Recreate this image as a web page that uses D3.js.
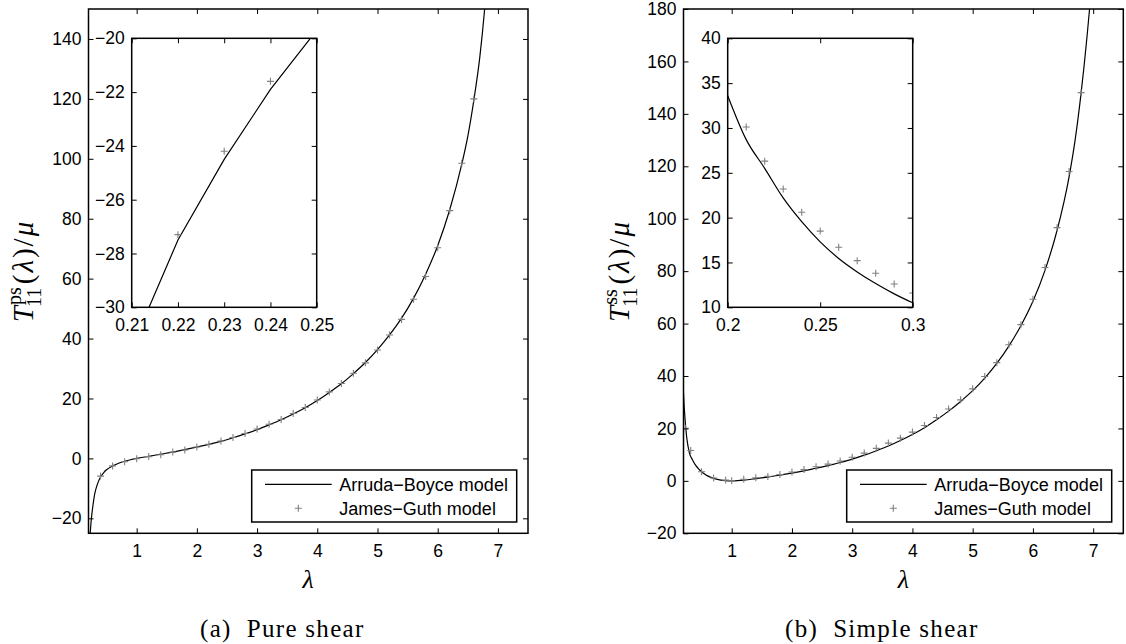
<!DOCTYPE html>
<html><head><meta charset="utf-8">
<script src="https://cdn.jsdelivr.net/npm/d3@7"></script>
<style>
body{margin:0;background:#fff;}
svg{display:block;}
.tick text{font-family:"Liberation Sans",Arial,sans-serif;font-size:17.5px;fill:#000;}
</style></head><body>
<svg id="chart" width="1126" height="644"></svg>
<script>
// ---------- data ----------
// (a) pure shear, Arruda-Boyce curve
const psCurveLambda = [0.21,0.22,0.23,0.24,0.25,0.27,0.3,0.35,0.4,0.45,0.5,0.6,0.7,0.8,0.9,1.0,1.2,1.4,1.6,1.8,2.0,2.2,2.4,2.6,2.8,3.0,3.2,3.4,3.6,3.8,4.0,4.2,4.4,4.6,4.8,5.0,5.2,5.4,5.6,5.8,6.0,6.2,6.4,6.5,6.6,6.7,6.78,6.85];
const psCurveValue  = [-31.5,-27.5,-24.5,-21.9,-19.7,-16.3,-12.2,-8.5,-6.2,-4.8,-3.8,-2.5,-1.6,-0.95,-0.45,0,0.7,1.4,2.1,2.9,3.8,4.7,5.7,6.9,8.2,9.6,11.2,12.9,14.8,16.9,19.3,22.0,24.9,28.3,32.0,36.3,41.2,46.8,53.5,61.5,71.0,83.0,98.2,107.5,119.5,134,150,168];
// (a) pure shear, James-Guth points
const psMarkLambda = [0.4,0.6,0.8,1.0,1.2,1.4,1.6,1.8,2.0,2.2,2.4,2.6,2.8,3.0,3.2,3.4,3.6,3.8,4.0,4.2,4.4,4.6,4.8,5.0,5.2,5.4,5.6,5.8,6.0,6.2,6.4,6.6];
const psMarkValue  = [-5.9,-2.5,-1.1,-0.1,0.6,1.2,2.1,2.8,3.8,4.7,5.8,7.0,8.3,9.8,11.4,13.0,15.0,17.0,19.5,22.2,25.0,28.4,31.9,36.2,41.2,46.4,53.1,60.7,70.3,82.7,98.5,120.0];
// (a) inset
const psInsetCurveLambda = [0.21,0.22,0.23,0.24,0.25];
const psInsetCurveValue  = [-31.5,-27.5,-24.5,-21.9,-19.7];
const psInsetMarkLambda  = [0.22,0.23,0.24];
const psInsetMarkValue   = [-27.3,-24.2,-21.6];

// (b) simple shear, Arruda-Boyce curve
const ssCurveLambda = [0.2,0.21,0.22,0.23,0.24,0.25,0.26,0.27,0.28,0.29,0.3,0.35,0.4,0.45,0.5,0.55,0.6,0.7,0.8,0.9,1.0,1.1,1.2,1.4,1.6,1.8,2.0,2.2,2.4,2.6,2.8,3.0,3.2,3.4,3.6,3.8,4.0,4.2,4.4,4.6,4.8,5.0,5.2,5.4,5.6,5.8,6.0,6.2,6.4,6.6,6.7,6.8,6.9,6.94,7.0];
const ssCurveValue  = [33.6,28.7,25.5,22.2,19.55,17.3,15.45,13.95,12.65,11.5,10.5,8.0,6.0,4.6,3.5,2.6,1.9,0.95,0.4,0.1,0,0.1,0.3,0.85,1.45,2.2,2.95,3.8,4.8,5.8,7.0,8.3,9.8,11.5,13.3,15.4,17.7,20.3,23.3,26.6,30.3,34.4,39.2,44.8,51.4,59.2,68.5,80.3,95.5,116,130,148,170,180,196];
// (b) simple shear, James-Guth points
const ssMarkLambda = [0.23,0.32,0.5,0.7,0.9,1.0,1.2,1.4,1.6,1.8,2.0,2.2,2.4,2.6,2.8,3.0,3.2,3.4,3.6,3.8,4.0,4.2,4.4,4.6,4.8,5.0,5.2,5.4,5.6,5.8,6.0,6.2,6.4,6.6,6.8];
const ssMarkValue  = [20.1,11.6,3.5,1.1,0.3,0.0,0.6,1.2,1.7,2.4,3.4,4.3,5.4,6.4,7.6,9.0,10.6,12.4,14.4,16.3,18.6,21.1,24.2,27.4,30.9,35.1,39.8,45.1,51.9,59.6,69.3,81.4,96.6,118.0,148.1];
// (b) inset
const ssInsetCurveLambda = [0.2,0.21,0.22,0.23,0.24,0.25,0.26,0.27,0.28,0.29,0.3];
const ssInsetCurveValue  = [33.6,28.7,25.5,22.2,19.55,17.3,15.45,13.95,12.65,11.5,10.5];
const ssInsetMarkLambda  = [0.21,0.22,0.23,0.24,0.25,0.26,0.27,0.28,0.29,0.3];
const ssInsetMarkValue   = [30.1,26.3,23.2,20.6,18.5,16.7,15.2,13.8,12.6,11.6];

// ticks and labels
const mainXTicks = [1,2,3,4,5,6,7];
const psYTicks = [-20,0,20,40,60,80,100,120,140];
const ssYTicks = [-20,0,20,40,60,80,100,120,140,160,180];
const psInsetXTicks = [0.21,0.22,0.23,0.24,0.25];
const psInsetYTicks = [-30,-28,-26,-24,-22,-20];
const ssInsetXTicks = [0.2,0.25,0.3];
const ssInsetYTicks = [10,15,20,25,30,35,40];
const legendLabels = ["Arruda\u2212Boyce model","James\u2212Guth model"];
const captions = ["(a)  Pure shear","(b)  Simple shear"];
const superscripts = ["ps","ss"];

// ---------- drawing ----------
const svg = d3.select("#chart");
const SANS = '"Liberation Sans",Arial,sans-serif';
const SERIF = '"Liberation Serif","Times New Roman",serif';
const fmt = d => (d < 0 ? "\u2212" : "") + String(Math.abs(d));
const plusPath = "M-3.5,0H3.5M0,-3.5V3.5";
let clipId = 0;

function axesBox(g, x, y, xTicks, yTicks) {
  const [x0, x1] = x.range(), [y0, y1] = y.range();
  const ax = (sel) => { sel.select(".domain").remove(); sel.selectAll("line").attr("stroke","#000").attr("stroke-width",1); };
  g.append("g").attr("transform",`translate(0,${y0})`)
    .call(d3.axisBottom(x).tickValues(xTicks).tickSize(-5).tickPadding(11.5).tickFormat(fmt)).call(ax);
  g.append("g").attr("transform",`translate(0,${y1})`)
    .call(d3.axisTop(x).tickValues(xTicks).tickSize(-5).tickFormat("")).call(ax);
  g.append("g").attr("transform",`translate(${x0},0)`)
    .call(d3.axisLeft(y).tickValues(yTicks).tickSize(-5).tickPadding(7).tickFormat(fmt)).call(ax);
  g.append("g").attr("transform",`translate(${x1},0)`)
    .call(d3.axisRight(y).tickValues(yTicks).tickSize(-5).tickFormat("")).call(ax);
  g.selectAll(".tick text").attr("font-family",SANS).attr("font-size",17.5);
  g.append("rect").attr("x",x0).attr("y",y1).attr("width",x1-x0).attr("height",y0-y1)
    .attr("fill","none").attr("stroke","#000").attr("stroke-width",1.5);
}

function series(g, x, y, cl, cv, ml, mv, curveType) {
  const id = "clip" + (clipId++);
  const [x0, x1] = x.range(), [y0, y1] = y.range();
  g.append("clipPath").attr("id", id).append("rect")
    .attr("x",x0).attr("y",y1).attr("width",x1-x0).attr("height",y0-y1);
  const inner = g.append("g").attr("clip-path",`url(#${id})`);
  const pts = cl.map((l,i)=>[l, cv[i]]);
  inner.append("path").datum(pts)
    .attr("d", d3.line().x(d=>x(d[0])).y(d=>y(d[1])).curve(curveType))
    .attr("fill","none").attr("stroke","#000").attr("stroke-width",1.2);
  inner.selectAll("path.mk").data(ml.map((l,i)=>[l, mv[i]])).join("path")
    .attr("class","mk").attr("d",plusPath)
    .attr("transform", d=>`translate(${x(d[0])},${y(d[1])})`)
    .attr("stroke","#808080").attr("stroke-width",1.1).attr("fill","none");
}

function legend(g, left, top) {
  const w = 265, h = 52;
  g.append("rect").attr("x",left).attr("y",top).attr("width",w).attr("height",h)
    .attr("fill","#fff").attr("stroke","#000").attr("stroke-width",1.5);
  const ly = [top+14.3, top+38.3];
  g.append("line").attr("x1",left+13.3).attr("x2",left+80).attr("y1",ly[0]).attr("y2",ly[0])
    .attr("stroke","#000").attr("stroke-width",1.2);
  g.append("path").attr("d",plusPath).attr("transform",`translate(${left+46.6},${ly[1]})`)
    .attr("stroke","#808080").attr("stroke-width",1.1);
  legendLabels.forEach((t,i)=>{
    g.append("text").attr("x",left+87.6).attr("y",ly[i]).attr("dy","0.35em")
      .attr("font-family",SANS).attr("font-size",18).text(t);
  });
}

function yLabel(cx, cy, sup) {
  const g = svg.append("g").attr("transform",`translate(${cx},${cy}) rotate(-90)`);
  const inner = g.append("g");
  const fs = 29, ss = 20;
  const T = inner.append("text").attr("font-family",SERIF).attr("font-style","italic").attr("font-size",fs).text("T");
  const tw = T.node().getComputedTextLength();
  const sp = inner.append("text").attr("x",tw+1).attr("y",-12).attr("font-family",SERIF).attr("font-size",ss).text(sup);
  const sb = inner.append("text").attr("x",tw-1).attr("y",8).attr("font-family",SERIF).attr("font-size",ss).text("11");
  const w2 = Math.max(tw+1+sp.node().getComputedTextLength(), tw-1+sb.node().getComputedTextLength());
  const rest = inner.append("text").attr("x",w2+3).attr("font-family",SERIF).attr("font-size",fs)
    .attr("letter-spacing",2);
  rest.append("tspan").text("(");
  rest.append("tspan").attr("font-style","italic").text("\u03bb");
  rest.append("tspan").text(")/");
  rest.append("tspan").attr("font-style","italic").text("\u03bc");
  const total = w2 + 3 + rest.node().getComputedTextLength();
  inner.attr("transform",`translate(${-total/2},0)`);
}

function panel(p) {
  const g = svg.append("g");
  const x = d3.scaleLinear().domain([0.2,7.5]).range([p.left, p.right]);
  const y = d3.scaleLinear().domain(p.yDomain).range([533.3, 9]);
  series(g, x, y, p.cl, p.cv, p.ml, p.mv, d3.curveMonotoneX);
  axesBox(g, x, y, mainXTicks, p.yTicks);
  // inset
  const ix = d3.scaleLinear().domain(p.ixDomain).range([p.insetLeft, p.insetLeft+185]);
  const iy = d3.scaleLinear().domain(p.iyDomain).range([307.3, 38.3]);
  g.append("rect").attr("x",p.insetLeft).attr("y",38.3).attr("width",185).attr("height",269).attr("fill","#fff");
  series(g, ix, iy, p.icl, p.icv, p.iml, p.imv, p.insetCurve);
  axesBox(g, ix, iy, p.ixTicks, p.iyTicks);
  legend(g, p.left + 163.2, 470);
  // x label
  g.append("text").attr("x",(p.left+p.right)/2).attr("y",588).attr("text-anchor","middle")
    .attr("font-family",SERIF).attr("font-style","italic").attr("font-size",26).text("\u03bb");
  // caption
  g.append("text").attr("x",p.capX).attr("y",637).attr("font-family",SERIF).attr("font-size",25)
    .attr("letter-spacing",1.3).attr("xml:space","preserve").text(p.caption);
  yLabel(p.labelX, 271, p.sup);
}

panel({left:88.5, right:528, yDomain:[-25,150], yTicks:psYTicks,
  cl:psCurveLambda, cv:psCurveValue, ml:psMarkLambda, mv:psMarkValue,
  insetLeft:131.7, ixDomain:[0.21,0.25], iyDomain:[-30,-20], ixTicks:psInsetXTicks, iyTicks:psInsetYTicks,
  icl:psInsetCurveLambda, icv:psInsetCurveValue, iml:psInsetMarkLambda, imv:psInsetMarkValue,
  insetCurve:d3.curveLinear, caption:captions[0], capX:200, labelX:33, sup:superscripts[0]});
panel({left:683.5, right:1123.3, yDomain:[-20,180], yTicks:ssYTicks,
  cl:ssCurveLambda, cv:ssCurveValue, ml:ssMarkLambda, mv:ssMarkValue,
  insetLeft:727.7, ixDomain:[0.2,0.3], iyDomain:[10,40], ixTicks:ssInsetXTicks, iyTicks:ssInsetYTicks,
  icl:ssInsetCurveLambda, icv:ssInsetCurveValue, iml:ssInsetMarkLambda, imv:ssInsetMarkValue,
  insetCurve:d3.curveMonotoneX, caption:captions[1], capX:785, labelX:629, sup:superscripts[1]});
</script>
</body></html>
